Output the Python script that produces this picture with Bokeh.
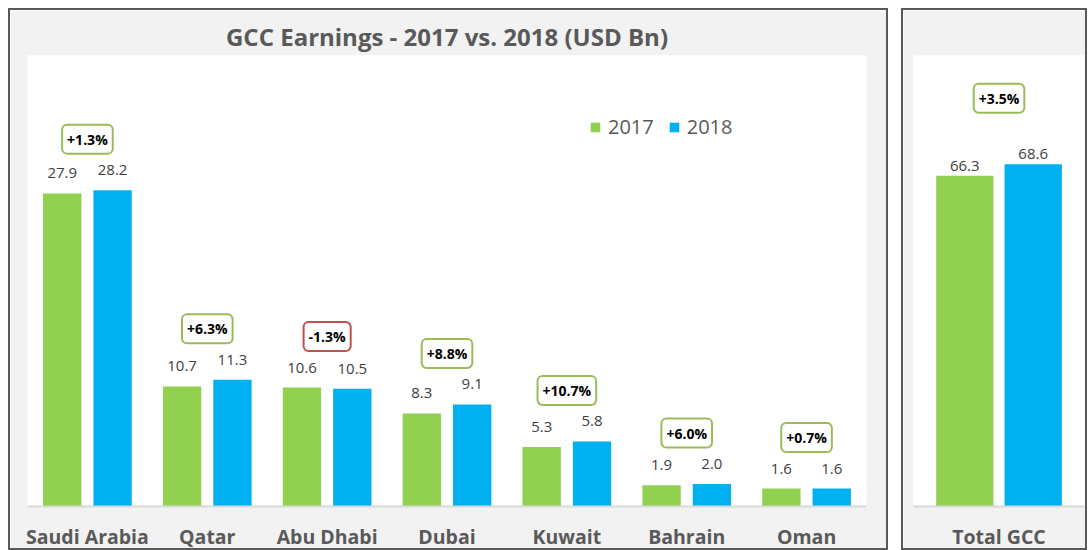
from bokeh.plotting import figure
from bokeh.models import ColumnDataSource, FactorRange, Range1d, Legend, LegendItem
from bokeh.transform import dodge
from bokeh.layouts import row
from bokeh.core.properties import value
from bokeh.embed import file_html
from bokeh.resources import INLINE

countries = ["Saudi Arabia", "Qatar", "Abu Dhabi", "Dubai", "Kuwait", "Bahrain", "Oman"]
e2017 = [27.9, 10.7, 10.6, 8.3, 5.3, 1.9, 1.6]
e2018 = [28.2, 11.3, 10.5, 9.1, 5.8, 2.0, 1.6]
changes = ["+1.3%", "+6.3%", "-1.3%", "+8.8%", "+10.7%", "+6.0%", "+0.7%"]

total_cat = ["Total GCC"]
total2017 = [66.3]
total2018 = [68.6]
total_change = ["+3.5%"]

GREEN = "#92d050"
BLUE = "#00b0f0"
FONT = "Open Sans"
GRAY = "#595959"


def make_src(cats, a, b, ch):
    return ColumnDataSource(dict(
        cat=cats, a=a, b=b,
        a_lbl=[f"{v:.1f}" for v in a], b_lbl=[f"{v:.1f}" for v in b],
        top=[max(x, y) for x, y in zip(a, b)], ch=ch,
        border=["#c0504d" if c.startswith("-") else "#9bbb59" for c in ch],
    ))


def style(p):
    p.border_fill_color = "#f2f2f2"
    p.background_fill_color = "white"
    p.outline_line_color = None
    p.xgrid.visible = False
    p.ygrid.visible = False
    ax = p.xaxis[0]
    ax.axis_line_color = "#d9d9d9"
    ax.axis_line_width = 2
    ax.major_tick_line_color = None
    ax.minor_tick_line_color = None
    ax.major_label_text_font = FONT
    ax.major_label_text_font_style = "bold"
    ax.major_label_text_font_size = "19.5px"
    ax.major_label_text_color = GRAY
    ax.major_label_standoff = 10


def draw(p, src, off, bw, lbl_off, box_off):
    r1 = p.vbar(x=dodge("cat", -off, range=p.x_range), top="a", width=bw, source=src,
                color=GREEN, line_color=None)
    r2 = p.vbar(x=dodge("cat", off, range=p.x_range), top="b", width=bw, source=src,
                color=BLUE, line_color=None)
    for xo, col in ((-off, "a"), (off, "b")):
        p.text(x=dodge("cat", xo, range=p.x_range), y=col, text=col + "_lbl", source=src,
               text_align="center", text_baseline="middle", y_offset=-lbl_off,
               text_font=value(FONT), text_font_size="15px", text_color="#404040")
    p.text(x="cat", y="top", text="ch", source=src, text_align="center",
           text_baseline="middle", y_offset=-box_off,
           text_font=value(FONT), text_font_size="14px", text_font_style="bold",
           text_color="black", background_fill_color="white",
           border_line_color="border", border_line_width=2, border_radius=5,
           padding=5)
    return r1, r2


H = 542
BORDER = {"border": "2px solid #595959"}
p1 = figure(width=880, height=H, x_range=FactorRange(*countries), y_range=Range1d(0, 40.2),
            y_axis_location=None, toolbar_location=None, output_backend="svg",
            min_border_left=17, min_border_right=24, min_border_top=45, min_border_bottom=41,
            title="GCC Earnings - 2017 vs. 2018 (USD Bn)", styles=BORDER)
style(p1)
p1.title.align = "center"
p1.title.text_font = FONT
p1.title.text_font_size = "24px"
p1.title.text_font_style = "bold"
p1.title.text_color = GRAY
p1.title.standoff = 5
r1, r2 = draw(p1, make_src(countries, e2017, e2018, changes), 0.21, 0.32, 20, 51)
legend = Legend(items=[LegendItem(label="2017", renderers=[r1]),
                       LegendItem(label="2018", renderers=[r2])],
                orientation="horizontal", location=(562, 366),
                label_text_font=FONT, label_text_font_size="20px", label_text_color=GRAY,
                glyph_width=12, glyph_height=12, label_standoff=7, spacing=14,
                padding=0, margin=0, border_line_color=None, background_fill_alpha=0)
p1.add_layout(legend)

p2 = figure(width=186, height=H, x_range=FactorRange(*total_cat), y_range=Range1d(0, 90.4),
            y_axis_location=None, toolbar_location=None, output_backend="svg",
            min_border_left=10, min_border_right=5, min_border_top=45, min_border_bottom=41,
            styles=BORDER)
style(p2)
draw(p2, make_src(total_cat, total2017, total2018, total_change), 0.2, 0.335, 10, 66)

layout = row(p1, p2, spacing=13, margin=(8, 0, 0, 8))
open("out.html", "w").write(file_html(layout, INLINE))
